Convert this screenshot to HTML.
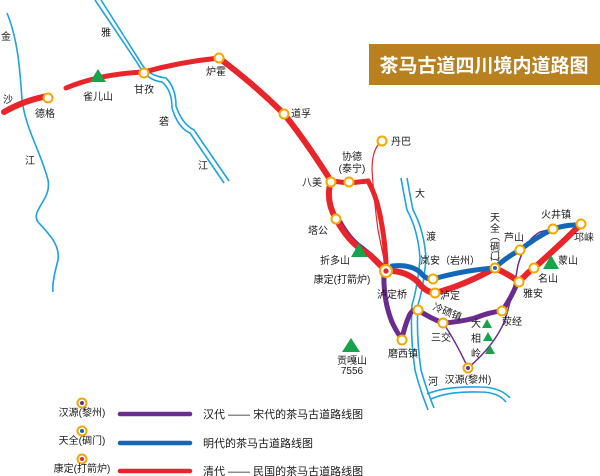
<!DOCTYPE html>
<html><head><meta charset="utf-8">
<style>
html,body{margin:0;padding:0;background:#fff;}
svg{display:block;}
text{font-family:"Liberation Sans","Noto Sans CJK SC",sans-serif;font-size:10px;fill:#1a1a1a;}
</style></head>
<body>
<svg width="600" height="476" viewBox="0 0 600 476" xmlns="http://www.w3.org/2000/svg">
<rect x="369" y="44" width="231" height="41" fill="#b8801e"/>
<text x="484" y="72" text-anchor="middle" style="font-size:19px;fill:#fff;font-weight:bold">茶马古道四川境内道路图</text>

<g fill="none" stroke="#1ea2e2" stroke-width="1.6">
<path d="M7,13 C18,40 20,70 22,100 C26,130 40,150 48,180 C52,200 30,210 38,222 C50,235 60,245 58,260 C54,275 52,285 53,292"/>
<path d="M95,0 L138,64 Q146,80 162,82 Q172,90 172,108 Q178,128 190,133 L224,183"/>
<path d="M101,0 L143,66 Q150,76 166,78 Q176,88 176,106 Q182,124 194,130 L229,181"/>
<path d="M401,178 Q404,195 407,210 Q418,230 420,258 Q418,285 412,305 Q410,335 415,370 Q420,390 428,410"/>
<path d="M407,178 Q410,195 413,210 Q424,230 426,258 Q424,285 418,305 Q416,335 421,370 Q426,388 434,408"/>
<path d="M427,394 Q445,386 480,387 Q500,387 510,398"/>
<path d="M431,399 Q448,391 480,392 Q498,392 506,402"/>
</g>

<g fill="none">
<path d="M380,143 Q372,150 372,170 Q374,200 378,230 Q383,255 386,268" stroke="#e8252a" stroke-width="1.2"/>
<path d="M443,323 Q455,340 468,368" stroke="#6a2c8e" stroke-width="1.5"/>
<path d="M468,368 Q495,345 505,320 Q514,290 518,265 Q525,240 540,232 Q555,228 572,225" stroke="#6a2c8e" stroke-width="1.5"/>
</g>

<g fill="none" stroke="#6a2c8e" stroke-width="5" stroke-linecap="round">
<path d="M340,222 Q350,240 362,248 Q375,258 384,268"/>
<path d="M384,272 Q383,300 392,322 Q398,335 402,338 Q406,322 410,314 Q414,308 418,310 Q430,318 443,323 Q460,322 475,318 Q490,312 502,311 Q510,300 516,286"/>
</g>

<g fill="none" stroke="#e8252a" stroke-width="5" stroke-linecap="round">
<path d="M4,112 Q25,100 48,96" stroke-width="6"/>
<path d="M66,88 Q100,74 144,72 Q180,62 219,58"/>
<path d="M219,58 Q255,85 284,114 Q305,140 331,181 Q325,200 336,219 Q350,245 370,255 Q380,265 386,271" stroke-width="6"/>
<path d="M331,181 L349,183 L368,181 Q376,195 380,215 Q386,245 386,268"/>
<path d="M386,271 Q405,270 418,282 Q425,292 435,293 Q465,285 495,268 Q510,275 519,282 Q528,272 534,268 Q560,245 581,224" stroke-width="6"/>
</g>

<g fill="none" stroke="#1366b8" stroke-width="5" stroke-linecap="round">
<path d="M392,266 Q410,264 420,272 Q426,280 433,279 Q465,270 495,268 Q505,258 520,250 Q535,238 553,229 Q565,225 575,225"/>
</g>

<g fill="#16a34a">
<polygon points="98,69 90,82 106,82"/>
<polygon points="359,243 351,257 367,257"/>
<polygon points="351,338 342,352 360,352"/>
<polygon points="551,255 543,269 559,269"/>
<polygon points="487,319 482,328 492,328"/>
<polygon points="488,332 483,341 493,341"/>
<polygon points="490,345 485,354 495,354"/>
</g>

<g fill="#fff" stroke="#f5a800" stroke-width="2">
<circle cx="48" cy="98" r="4.5"/>
<circle cx="144" cy="73" r="4.5"/>
<circle cx="219" cy="58" r="4.5"/>
<circle cx="284" cy="114" r="4.5"/>
<circle cx="382" cy="141" r="4.5"/>
<circle cx="349" cy="182" r="4.5"/>
<circle cx="331" cy="182" r="4.5"/>
<circle cx="336" cy="219" r="4.5"/>
<circle cx="433" cy="279" r="4.5"/>
<circle cx="435" cy="293" r="4.5"/>
<circle cx="418" cy="310" r="4.5"/>
<circle cx="443" cy="323" r="4.5"/>
<circle cx="402" cy="340" r="4.5"/>
<circle cx="502" cy="311" r="4.5"/>
<circle cx="519" cy="282" r="4.5"/>
<circle cx="534" cy="268" r="4.5"/>
<circle cx="520" cy="250" r="4.5"/>
<circle cx="553" cy="229" r="4.5"/>
<circle cx="581" cy="224" r="4.5"/>
<circle cx="386" cy="271" r="6"/>
<circle cx="495" cy="268" r="4.5"/>
<circle cx="468" cy="368" r="4.5"/>
<circle cx="82" cy="403" r="4.5"/>
<circle cx="82" cy="431" r="4.5"/>
<circle cx="82" cy="459" r="4.5"/>
</g>
<circle cx="386" cy="271" r="2.6" fill="#e8252a"/>
<circle cx="495" cy="268" r="2" fill="#1366b8"/>
<circle cx="468" cy="368" r="2" fill="#6a2c8e"/>
<circle cx="82" cy="403" r="2" fill="#6a2c8e"/>
<circle cx="82" cy="431" r="2" fill="#1366b8"/>
<circle cx="82" cy="459" r="2" fill="#e8252a"/>

<g text-anchor="middle">
<text x="6" y="40">金</text>
<text x="106" y="36">雅</text>
<text x="8" y="103">沙</text>
<text x="45" y="117">德格</text>
<text x="98" y="100">雀儿山</text>
<text x="144" y="93">甘孜</text>
<text x="164" y="125">砻</text>
<text x="30" y="164">江</text>
<text x="203" y="169">江</text>
<text x="216" y="75">炉霍</text>
<text x="301" y="117">道孚</text>
<text x="401" y="145">丹巴</text>
<text x="352" y="160">协德</text>
<text x="352" y="172">(泰宁)</text>
<text x="312" y="186">八美</text>
<text x="318" y="234">塔公</text>
<text x="335" y="264">折多山</text>
<text x="342" y="283">康定(打箭炉)</text>
<text x="392" y="298">泸定桥</text>
<text x="420" y="197">大</text>
<text x="431" y="240">渡</text>
<text x="433" y="385">河</text>
<text x="450" y="264">岚安（岩州）</text>
<text x="450" y="299">泸定</text>
<text x="446" y="315" transform="rotate(22 446 315)">冷碛镇</text>
<text x="441" y="341">三交</text>
<text x="403" y="357">磨西镇</text>
<text x="352" y="364">贡嘎山</text>
<text x="352" y="374">7556</text>
<text x="476" y="327">大</text>
<text x="476" y="342">相</text>
<text x="476" y="357">岭</text>
<text x="468" y="383">汉源(黎州)</text>
<text x="512" y="325">荥经</text>
<text x="533" y="297">雅安</text>
<text x="548" y="282">名山</text>
<text x="568" y="264">蒙山</text>
<text x="514" y="241">芦山</text>
<text x="556" y="218">火井镇</text>
<text x="584" y="241">邛崃</text>
<text x="495" y="221">天</text>
<text x="495" y="232">全</text>
<text x="495" y="240">︵</text>
<text x="495" y="250">碉</text>
<text x="495" y="260">门</text>
<text x="495" y="266">︶</text>
<text x="82" y="416">汉源(黎州)</text>
<text x="82" y="444">天全(碉门)</text>
<text x="82" y="472">康定(打箭炉)</text>
</g>

<line x1="120" y1="414" x2="190" y2="414" stroke="#6a2c8e" stroke-width="4.5" stroke-linecap="round"/>
<line x1="120" y1="443" x2="190" y2="443" stroke="#1366b8" stroke-width="4.5" stroke-linecap="round"/>
<line x1="120" y1="471" x2="190" y2="471" stroke="#e8252a" stroke-width="4.5" stroke-linecap="round"/>
<text x="203" y="418" style="font-size:11px">汉代 —— 宋代的茶马古道路线图</text>
<text x="203" y="447" style="font-size:11px">明代的茶马古道路线图</text>
<text x="203" y="475" style="font-size:11px">清代 —— 民国的茶马古道路线图</text>
</svg>
</body></html>
